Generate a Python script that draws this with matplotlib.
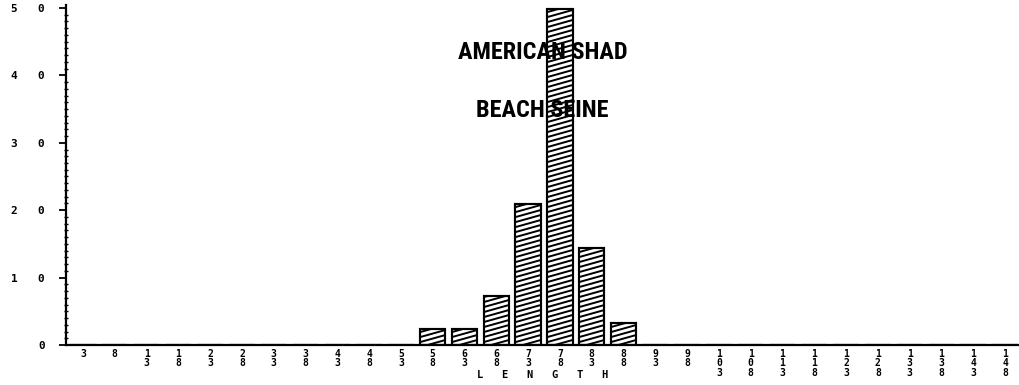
import numpy as np
import matplotlib
matplotlib.use("Agg")
import matplotlib.pyplot as plt
from matplotlib.collections import LineCollection
from matplotlib.ticker import MultipleLocator, FixedLocator
from matplotlib import font_manager

# ---- data ----
length_bins = [3, 8, 13, 18, 23, 28, 33, 38, 43, 48, 53, 58, 63, 68, 73,
               78, 83, 88, 93, 98, 103, 108, 113, 118, 123, 128, 133, 138, 143, 148]
percent = [0, 0, 0, 0, 0, 0, 0, 0, 0, 0, 0, 2.3, 2.3, 7.2, 20.9,
           49.8, 14.4, 3.2, 0, 0, 0, 0, 0, 0, 0, 0, 0, 0, 0, 0]
y_ticks = [0, 10, 20, 30, 40, 50]
title_lines = ["AMERICAN SHAD", "BEACH SEINE"]
x_title = "LENGTH"

W, H = 1019, 385
fig = plt.figure(figsize=(W / 100, H / 100), dpi=100)
ax_l, ax_b, ax_w, ax_h = 66, 40, 953, 339.7
ax = fig.add_axes([ax_l / W, ax_b / H, ax_w / W, ax_h / H])

xlim = (0.33, 150.2)
ylim = (0, 50.4)
ax.set_xlim(*xlim)
ax.set_ylim(*ylim)

bar_w = 4.0
bars = ax.bar(length_bins, percent, width=bar_w, color="white",
              edgecolor="black", linewidth=1.5, zorder=2)

# shallow diagonal hatching, clipped to each bar
px_x = ax_w / (xlim[1] - xlim[0])
px_y = ax_h / (ylim[1] - ylim[0])
slope = 0.28 * px_x / px_y          # rise per x-unit in data space
step = 5.0 / px_y                   # vertical spacing of hatch lines
for patch in bars.patches:
    x0, w, h = patch.get_x(), patch.get_width(), patch.get_height()
    if h <= 0:
        continue
    segs = []
    c = -slope * w
    while c < h + step:
        segs.append([(x0, c), (x0 + w, c + slope * w)])
        c += step
    lc = LineCollection(segs, colors="black", linewidths=1.4, zorder=2.5)
    ax.add_collection(lc)
    lc.set_clip_path(patch)
ax.bar(length_bins, percent, width=bar_w, fill=False,
       edgecolor="black", linewidth=1.5, zorder=3)

# spines
for s in ("top", "right"):
    ax.spines[s].set_visible(False)
for s in ("left", "bottom"):
    ax.spines[s].set_linewidth(1.6)

mono = "DejaVu Sans Mono"
# x ticks: stacked digits
ax.xaxis.set_major_locator(FixedLocator(length_bins))
ax.set_xticklabels(["\n".join(str(v)) for v in length_bins],
                   fontsize=7, fontweight="bold", family=mono, linespacing=0.9)
ax.tick_params(axis="x", length=0, pad=3)

# y ticks
ax.yaxis.set_major_locator(FixedLocator(y_ticks))
ax.set_yticklabels(["   ".join(str(v)) for v in y_ticks],
                   fontsize=8, fontweight="bold", family=mono)
ax.yaxis.set_minor_locator(MultipleLocator(1))
ax.tick_params(axis="y", which="major", direction="out", length=5, width=1.3, pad=10)
ax.tick_params(axis="y", which="minor", direction="inout", length=3.5, width=1.0)

# x axis title
ax.set_xlabel("   ".join(x_title), fontsize=7.5, fontweight="bold", family=mono)
ax.xaxis.label.set_va("center")
ax.xaxis.set_label_coords(0.5, (345 - 375) / ax_h)

# chart title: prefer a condensed face if one is installed
names = {f.name for f in font_manager.fontManager.ttflist}
title_font = None
title_size = 16
for cand, size in [("Roboto Condensed", 17.5), ("Liberation Sans Narrow", 17.5),
                   ("Open Sans Condensed", 17.5), ("Liberation Sans", 15.5)]:
    if cand in names:
        title_font, title_size = cand, size
        break
if title_font is None:
    title_font = "DejaVu Sans"
for line, base_px in zip(title_lines, [59, 117]):
    ax.text(0.5, (345 - base_px) / ax_h, line, transform=ax.transAxes,
            ha="center", va="baseline", fontsize=title_size, fontweight="bold",
            family=title_font, zorder=5)

fig.savefig("out.png", dpi=100)
